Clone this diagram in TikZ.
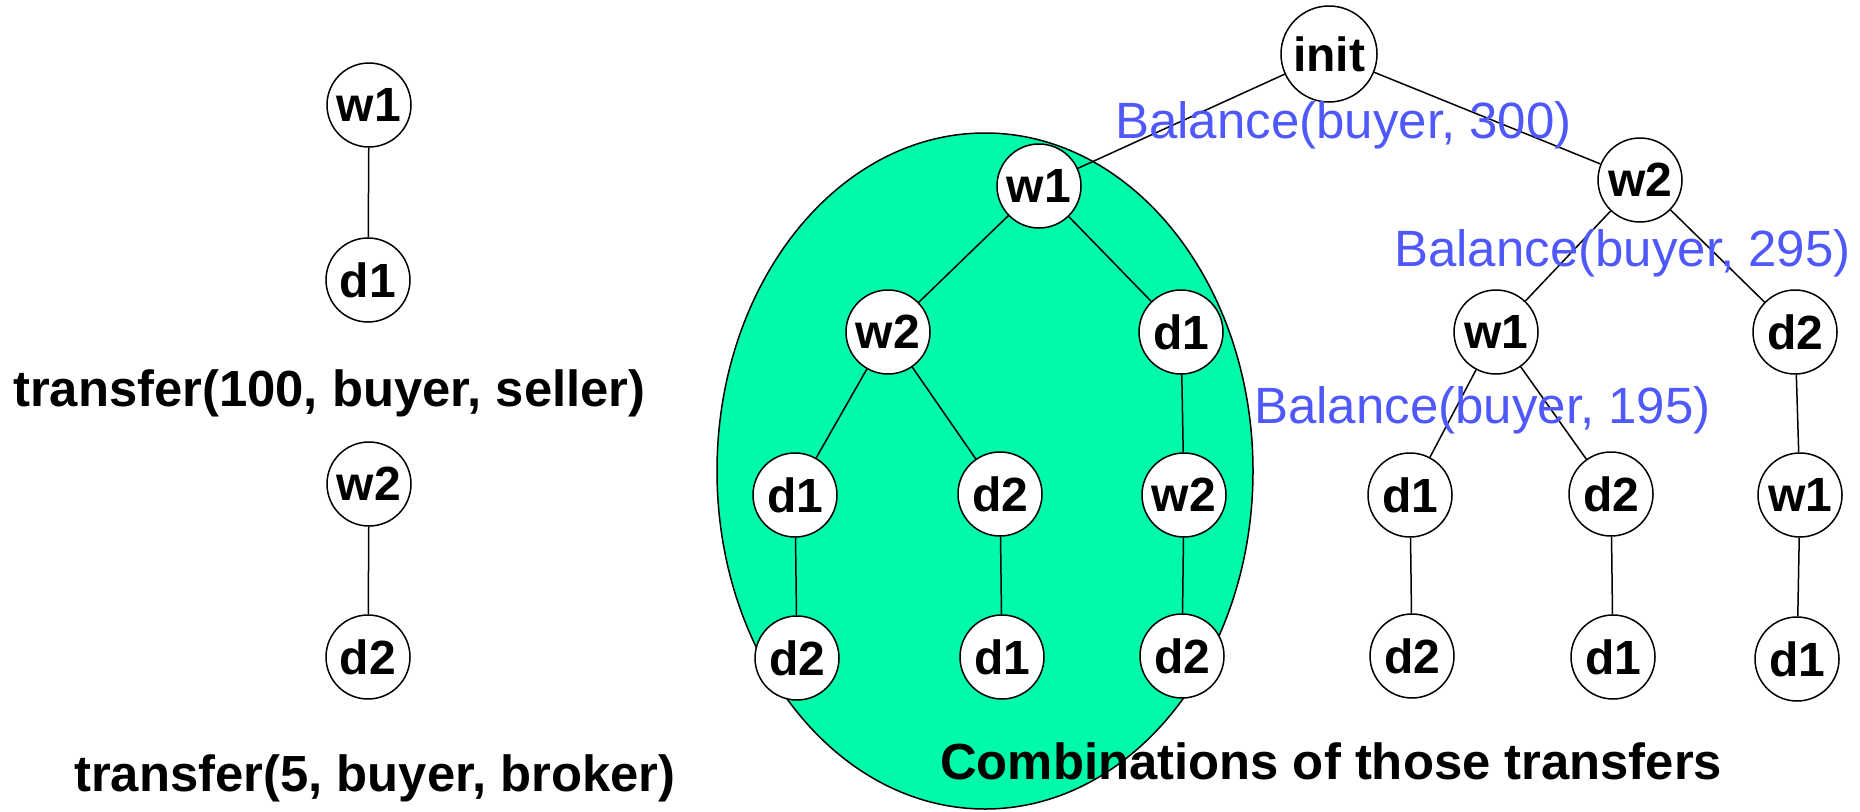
\documentclass[tikz,border=0pt]{standalone}
\usepackage{fontspec}
\setmainfont{Liberation Sans}
\definecolor{blobgreen}{RGB}{0,250,170}
\definecolor{balblue}{RGB}{79,88,250}
\tikzset{
  st/.style={circle, draw, fill=white, line width=1.5pt, inner sep=0pt,
    minimum size=84pt, font=\fontsize{48}{50}\selectfont\bfseries},
  caption/.style={anchor=base west, inner sep=0pt, font=\fontsize{50.8}{54}\selectfont\bfseries},
  bal/.style={anchor=base west, inner sep=0pt, text=balblue, font=\fontsize{51}{54}\selectfont},
  edge/.style={line width=1.5pt}
}
\begin{document}
\begin{tikzpicture}[x=1pt, y=-1pt]
\useasboundingbox (0,0) rectangle (1860,811);

% shaded group of interleavings starting with w1
\draw[fill=blobgreen, line width=1.5pt] (985,471) ellipse [x radius=268, y radius=338];

% single transfers
\node[st] (a1) at (369,105) {w1};
\node[st] (a2) at (368,280) {d1};
\node[caption] (t1) at (13,406) {transfer(100, buyer, seller)};
\node[st] (b1) at (369,484) {w2};
\node[st] (b2) at (368,657) {d2};
\node[caption] (t2) at (74,791) {transfer(5, buyer, broker)};
\draw[edge] (a1) -- (a2);
\draw[edge] (b1) -- (b2);

% tree of combinations
\node[st, minimum size=96pt] (init) at (1329,54) {init};

\node[st] (L) at (1039,186) {w1};
\node[st] (Lw2) at (888,332) {w2};
\node[st] (Ld1) at (1181,332) {d1};
\node[st] (Lw2d1) at (795,495) {d1};
\node[st] (Lw2d2) at (1000,494) {d2};
\node[st] (Ld1w2) at (1184,495) {w2};
\node[st] (Lw2d1d2) at (797,658) {d2};
\node[st] (Lw2d2d1) at (1002,657) {d1};
\node[st] (Ld1w2d2) at (1182,656) {d2};

\node[st] (R) at (1640,180) {w2};
\node[st] (Rw1) at (1496,332) {w1};
\node[st] (Rd2) at (1795,332) {d2};
\node[st] (Rw1d1) at (1410,495) {d1};
\node[st] (Rw1d2) at (1611,494) {d2};
\node[st] (Rd2w1) at (1800,495) {w1};
\node[st] (Rw1d1d2) at (1412,656) {d2};
\node[st] (Rw1d2d1) at (1613,657) {d1};
\node[st] (Rd2w1d1) at (1797,659) {d1};

\draw[edge] (init) -- (L);
\draw[edge] (init) -- (R);
\draw[edge] (L) -- (Lw2);
\draw[edge] (L) -- (Ld1);
\draw[edge] (Lw2) -- (Lw2d1);
\draw[edge] (Lw2) -- (Lw2d2);
\draw[edge] (Ld1) -- (Ld1w2);
\draw[edge] (Lw2d1) -- (Lw2d1d2);
\draw[edge] (Lw2d2) -- (Lw2d2d1);
\draw[edge] (Ld1w2) -- (Ld1w2d2);
\draw[edge] (R) -- (Rw1);
\draw[edge] (R) -- (Rd2);
\draw[edge] (Rw1) -- (Rw1d1);
\draw[edge] (Rw1) -- (Rw1d2);
\draw[edge] (Rd2) -- (Rd2w1);
\draw[edge] (Rw1d1) -- (Rw1d1d2);
\draw[edge] (Rw1d2) -- (Rw1d2d1);
\draw[edge] (Rd2w1) -- (Rd2w1d1);

% balances along the right branch
\node[bal] (b300) at (1115,138) {Balance(buyer, 300)};
\node[bal] (b295) at (1394,266) {Balance(buyer, 295)};
\node[bal] (b195) at (1254,423) {Balance(buyer, 195)};

\node[caption] (comb) at (940,779) {Combinations of those transfers};
\end{tikzpicture}
\end{document}
